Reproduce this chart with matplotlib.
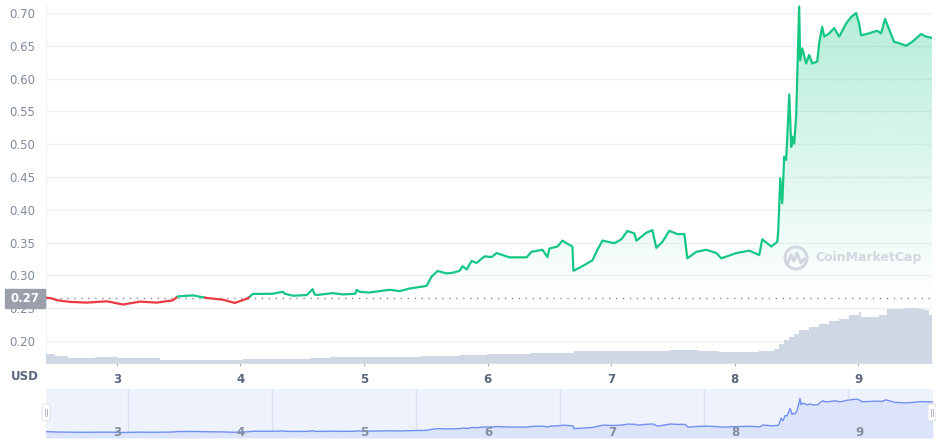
import numpy as np
import matplotlib.pyplot as plt
from matplotlib.patches import Ellipse, FancyBboxPatch, Rectangle

# price (USD) vs day of month
days = [2.426, 2.47, 2.52, 2.62, 2.757, 2.919, 3.049, 3.186, 3.323, 3.453, 3.493,
        3.614, 3.728, 3.857, 3.954, 4.059, 4.099, 4.261, 4.342, 4.36, 4.423, 4.536,
        4.584, 4.6, 4.617, 4.746, 4.827, 4.93, 4.940, 4.964, 5.029, 5.045, 5.207,
        5.288, 5.369, 5.506, 5.546, 5.595, 5.668, 5.716, 5.773, 5.797, 5.830, 5.870,
        5.910, 5.975, 6.032, 6.072, 6.177, 6.315, 6.355, 6.444, 6.484, 6.500, 6.565,
        6.606, 6.638, 6.686, 6.694, 6.767, 6.848, 6.888, 6.929, 7.026, 7.082, 7.131,
        7.187, 7.204, 7.284, 7.333, 7.365, 7.414, 7.470, 7.535, 7.592, 7.616, 7.689,
        7.770, 7.851, 7.891, 8.012, 8.117, 8.198, 8.222, 8.295, 8.344, 8.352, 8.368,
        8.384, 8.400, 8.416, 8.441, 8.457, 8.465, 8.481, 8.497, 8.505, 8.521, 8.529,
        8.546, 8.578, 8.602, 8.627, 8.667, 8.683, 8.707, 8.724, 8.764, 8.804, 8.845,
        8.901, 8.942, 8.982, 9.006, 9.022, 9.087, 9.152, 9.184, 9.216, 9.241, 9.289,
        9.330, 9.386, 9.435, 9.508, 9.548, 9.596]
price = [0.266, 0.265, 0.262, 0.2596, 0.2585, 0.2605, 0.2556, 0.260, 0.2585, 0.262, 0.268,
         0.2695, 0.2655, 0.263, 0.258, 0.265, 0.2717, 0.272, 0.275, 0.272, 0.269, 0.270,
         0.279, 0.271, 0.270, 0.273, 0.271, 0.272, 0.278, 0.275, 0.274, 0.274, 0.278,
         0.276, 0.280, 0.284, 0.298, 0.3067, 0.303, 0.304, 0.307, 0.314, 0.309, 0.322,
         0.319, 0.329, 0.328, 0.334, 0.3275, 0.3275, 0.336, 0.339, 0.328, 0.341, 0.344,
         0.353, 0.349, 0.344, 0.307, 0.314, 0.323, 0.339, 0.353, 0.349, 0.355, 0.3677,
         0.364, 0.353, 0.365, 0.369, 0.342, 0.351, 0.368, 0.363, 0.363, 0.326, 0.336,
         0.339, 0.334, 0.326, 0.334, 0.3377, 0.331, 0.355, 0.344, 0.351, 0.369, 0.448,
         0.410, 0.481, 0.476, 0.576, 0.496, 0.5115, 0.501, 0.5445, 0.598, 0.71, 0.628,
         0.646, 0.623, 0.636, 0.623, 0.626, 0.654, 0.679, 0.664, 0.669, 0.677, 0.664,
         0.684, 0.694, 0.70, 0.684, 0.666, 0.669, 0.673, 0.669, 0.691, 0.679, 0.656,
         0.654, 0.650, 0.656, 0.668, 0.664, 0.662]

# 24h volume (relative units), step starts
vol_days = [2.426, 2.499, 2.604, 2.822, 3.008, 3.348, 4.019, 4.560, 4.722, 4.964, 5.450,
            5.773, 5.991, 6.339, 6.500, 6.702, 7.470, 7.713, 7.875, 8.198, 8.319, 8.360,
            8.400, 8.441, 8.481, 8.521, 8.602, 8.683, 8.764, 8.845, 8.926, 9.006, 9.022,
            9.168, 9.233, 9.370, 9.491, 9.532, 9.572, 9.596]
volume = [8.7, 7, 5, 5.7, 4.4, 2.7, 3.7, 4.7, 5.2, 5.6, 6.6, 7.6, 8.3, 9.3, 10, 11.6,
          12.6, 11.6, 10.6, 11.6, 14, 19, 23, 26, 29, 32.5, 36, 39, 42, 44, 47.5, 51,
          46, 47.5, 53.5, 55, 54, 52.5, 47.5, 47.5]

base = 0.266
day_ticks = [3, 4, 5, 6, 7, 8, 9]
nav_grid = [3.089, 4.253, 5.417, 6.581, 7.745, 8.909]
price_ticks = [0.20, 0.25, 0.30, 0.35, 0.40, 0.45, 0.50, 0.55, 0.60, 0.65, 0.70]

GREEN = "#16c784"
RED = "#ea3943"
W, H = 937, 445


def fx(x):
    return x / W


def fy(y):
    return 1 - y / H


x = np.array(days)
y = np.array(price)
x0, x1 = x[0], x[-1]

fig = plt.figure(figsize=(9.37, 4.45), dpi=100)
ax = fig.add_axes([fx(46), fy(362.5), fx(886), 357.5 / H])
ax.set_xlim(x0, x1)
ax.set_ylim(0.1672, 0.7122)
for s in ["top", "right"]:
    ax.spines[s].set_visible(False)
ax.spines["left"].set_color("#eff2f5")
ax.spines["bottom"].set_color("#d8dce4")
ax.set_yticks(price_ticks)
ax.set_yticklabels([f"{v:.2f}" for v in price_ticks])
ax.tick_params(axis="y", length=0, pad=7.5, labelsize=8.5, labelcolor="#808a9d")
ax.set_xticks(day_ticks)
ax.tick_params(axis="x", length=2.5, width=0.8, color="#a6b0c3", pad=5,
               labelsize=8.5, labelcolor="#58667e")
for lab in ax.get_xticklabels():
    lab.set_fontweight("bold")
ax.grid(axis="y", color="#eff2f5", linewidth=1)
ax.set_axisbelow(True)

# gradient area above baseline
poly = ax.fill_between(x, np.maximum(y, base), base, facecolor="none", edgecolor="none")
grad = np.zeros((256, 1, 4))
grad[:, 0, :3] = [0x16 / 255, 0xc7 / 255, 0x84 / 255]
grad[:, 0, 3] = np.linspace(0.0, 0.32, 256)
im = ax.imshow(grad, extent=[x0, x1, base, 0.71], origin="lower", aspect="auto",
               zorder=1, interpolation="bilinear")
im.set_clip_path(poly.get_paths()[0], transform=ax.transData)
ax.set_xlim(x0, x1)
ax.set_ylim(0.1672, 0.7122)

# split line into green/red at baseline crossings
xs, ys = [x[0]], [y[0]]
for i in range(1, len(x)):
    if (y[i - 1] - base) * (y[i] - base) < 0:
        t = (base - y[i - 1]) / (y[i] - y[i - 1])
        xs.append(x[i - 1] + t * (x[i] - x[i - 1]))
        ys.append(base)
    xs.append(x[i])
    ys.append(y[i])
xs, ys = np.array(xs), np.array(ys)
ax.plot(xs, np.where(ys >= base, ys, np.nan), color=GREEN, lw=1.6, zorder=3)
ax.plot(xs, np.where(ys <= base, ys, np.nan), color=RED, lw=1.6, zorder=3)
ax.axhline(base, color="#808a9d", lw=1, ls=(0, (1, 4)), zorder=2)

# volume
axv = ax.twinx()
axv.set_ylim(0, 357.5)
axv.fill_between(vol_days, volume, 0, step="post", color="#cfd6e4", lw=0)
axv.set_xlim(x0, x1)
axv.axis("off")

# left labels
fig.text(fx(25), fy(377), "USD", ha="center", va="center", fontsize=8.5,
         fontweight="bold", color="#58667e")
fig.patches.append(Rectangle((fx(5), fy(307.5)), fx(40), 18.5 / H,
                             transform=fig.transFigure, color="#9a9fab", zorder=5))
fig.text(fx(25), fy(298.3), "0.27", ha="center", va="center", fontsize=8.5,
         fontweight="bold", color="white", zorder=6)

# watermark
wm = "#d3d7df"
fig.patches.append(Ellipse((fx(796), fy(258)), 22 / W, 22 / H, transform=fig.transFigure,
                           facecolor="none", edgecolor=wm, lw=2.2, zorder=4))
fig.lines.append(plt.Line2D([fx(v) for v in [788, 791, 794, 797, 801, 804]],
                            [fy(v) for v in [263, 255, 261, 253, 263, 259]],
                            transform=fig.transFigure, color=wm, lw=2.2, zorder=4))
fig.text(fx(815), fy(258), "CoinMarketCap", ha="left", va="center", fontsize=9,
         fontweight="bold", color=wm, zorder=4)

# navigator
axn = fig.add_axes([fx(46), fy(438), fx(887), 49 / H])
axn.set_facecolor("#eef2fd")
axn.set_xlim(x0, x1)
axn.set_ylim(0.182, 0.835)
for s in axn.spines.values():
    s.set_visible(False)
axn.set_xticks([])
axn.set_yticks([])
for g in nav_grid:
    axn.axvline(g, color="#dbe1f1", lw=1, zorder=1)
axn.fill_between(x, y, 0.182, color="#dce4fb", lw=0, zorder=2)
axn.plot(x, y, color="#6f8ff2", lw=1, zorder=3)
for d in day_ticks:
    axn.text(d, 0.25, str(d), ha="center", va="center", fontsize=8.5,
             fontweight="bold", color="#858d9d", zorder=4)

for hx in [46, 932]:
    fig.patches.append(FancyBboxPatch((fx(hx - 4), fy(421)), fx(8), 17 / H,
                                      boxstyle="round,pad=0,rounding_size=0.004",
                                      transform=fig.transFigure, facecolor="white",
                                      edgecolor="#dfe3ea", lw=0.8, zorder=6))
    fig.lines.append(plt.Line2D([fx(hx - 1), fx(hx - 1)], [fy(409), fy(416)],
                                transform=fig.transFigure, color="#a0a7b5", lw=0.6, zorder=7))
    fig.lines.append(plt.Line2D([fx(hx + 1), fx(hx + 1)], [fy(409), fy(416)],
                                transform=fig.transFigure, color="#a0a7b5", lw=0.6, zorder=7))

fig.savefig("out.png", dpi=100)
